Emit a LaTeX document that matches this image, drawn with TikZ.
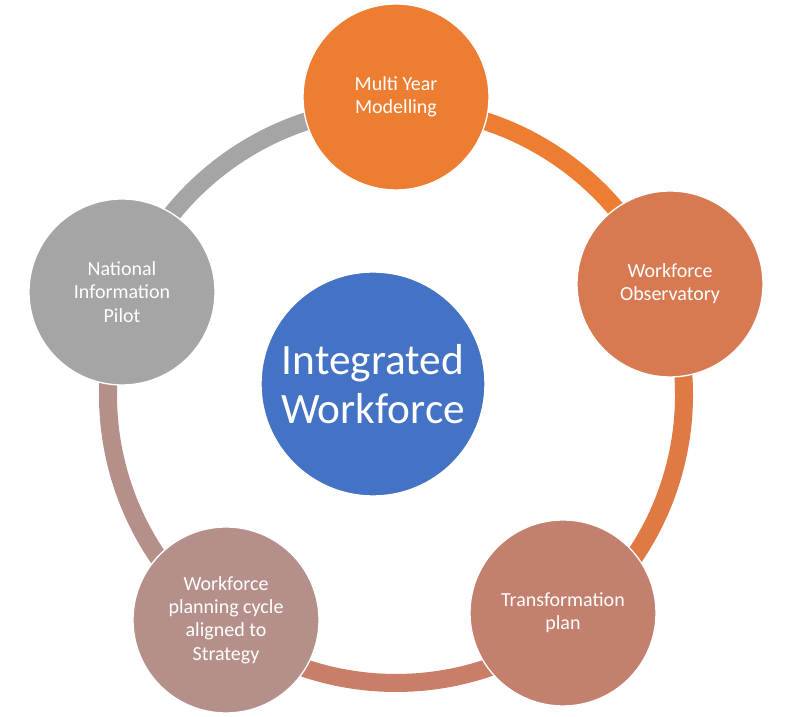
\documentclass[tikz,border=0pt]{standalone}
\usepackage{fontspec}
\setmainfont{Carlito}
\definecolor{cA}{HTML}{ED7D31}
\definecolor{cB}{HTML}{D77A52}
\definecolor{cC}{HTML}{C4806E}
\definecolor{cD}{HTML}{B5908A}
\definecolor{cE}{HTML}{A5A5A5}
\definecolor{cM}{HTML}{4472C4}
\definecolor{rB}{HTML}{E07A45}
\definecolor{rC}{HTML}{C97E68}
\begin{document}
\begin{tikzpicture}[x=0.75pt,y=0.75pt,
  sat/.style={circle,minimum size=186*0.75pt,inner sep=0pt,text=white,align=center,font=\fontsize{15}{17.5}\selectfont},
  ring/.style={line width=18*0.75pt}]
\useasboundingbox (0,0) rectangle (797,717);
\coordinate (rc) at (396,322);
\draw[ring,cA] ([shift={(90:288)}]rc) arc[start angle=90,end angle=22,radius=288];
\draw[ring,rB] ([shift={(22:288)}]rc) arc[start angle=22,end angle=-52,radius=288];
\draw[ring,rC] ([shift={(-52:288)}]rc) arc[start angle=-52,end angle=-127,radius=288];
\draw[ring,cD] ([shift={(-127:288)}]rc) arc[start angle=-127,end angle=-201,radius=288];
\draw[ring,cE] ([shift={(159:288)}]rc) arc[start angle=159,end angle=90,radius=288];
\node[sat,fill=cA,draw=white,line width=1pt] (t) at (396,620) {Multi Year\\Modelling};
\node[sat,fill=cB,draw=white,line width=1pt] (r) at (670,433) {Workforce\\Observatory};
\node[sat,fill=cC,draw=white,line width=1pt] (br) at (563,104) {Transformation\\plan};
\node[sat,fill=cD,draw=white,line width=1pt] (bl) at (226,97) {Workforce\\planning cycle\\aligned to\\Strategy};
\node[sat,fill=cE,draw=white,line width=1pt] (l) at (122,425) {National\\Information\\Pilot};
\node[circle,minimum size=224*0.75pt,inner sep=0pt,fill=cM,draw=white,line width=1pt,text=white,align=center,font=\fontsize{32.5}{37}\selectfont] (c) at (373,333) {Integrated\\Workforce};
\end{tikzpicture}
\end{document}
